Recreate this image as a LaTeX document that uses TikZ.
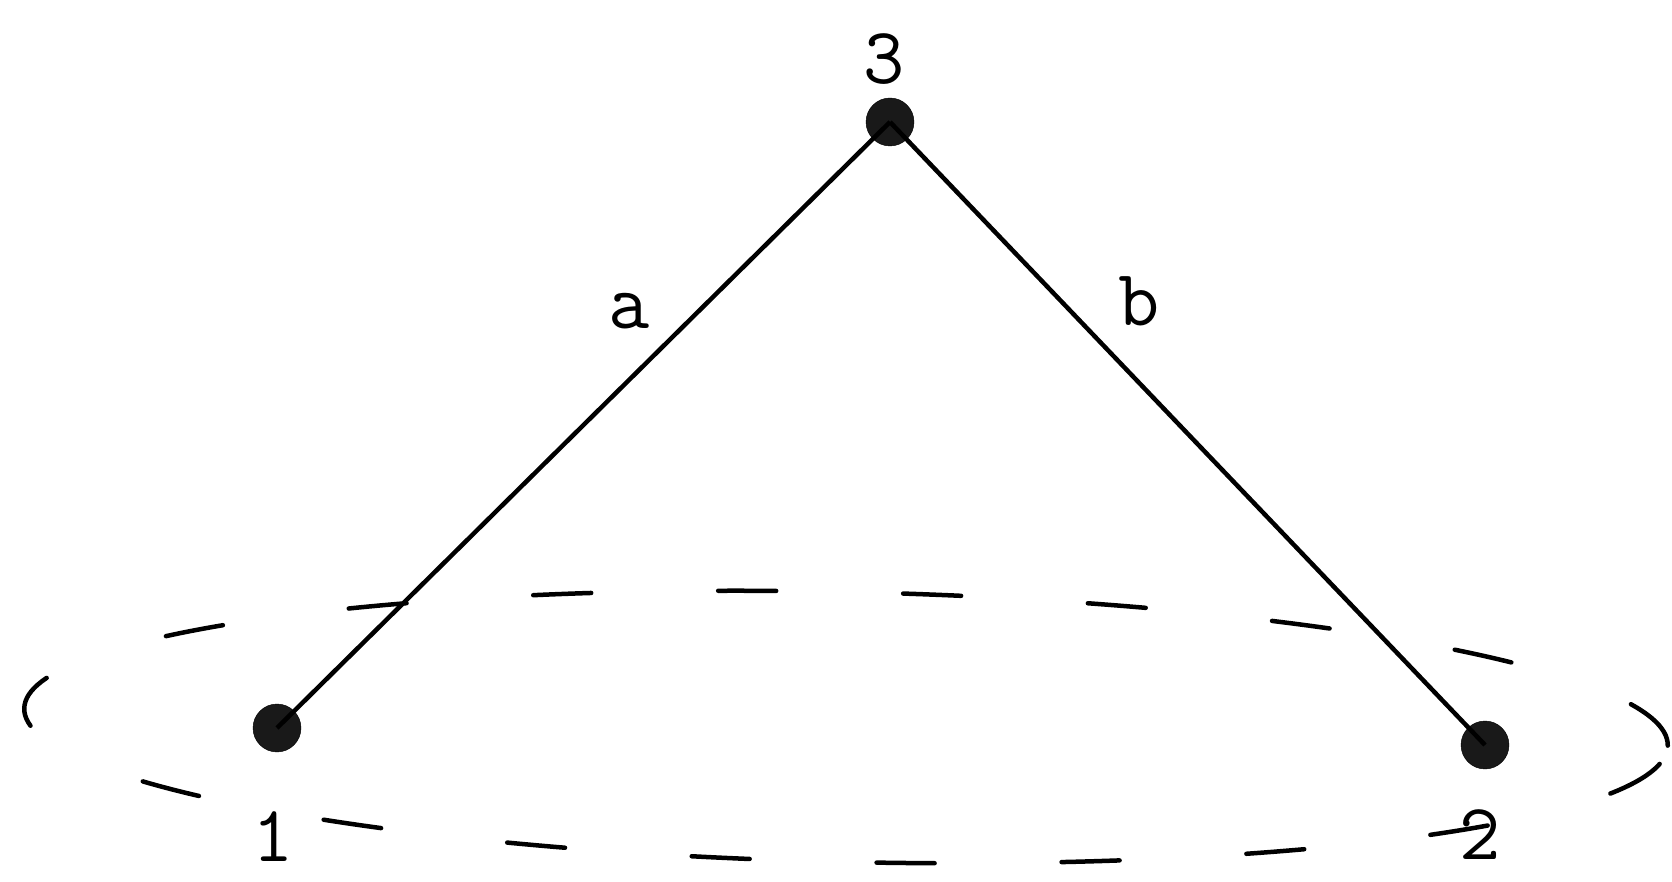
\documentclass[tikz,border=0pt]{standalone}
\usepackage{fontspec}
\begin{document}
\begin{tikzpicture}[x=1pt,y=1pt,
  vdot/.style={circle,fill=black!90,draw=black,minimum size=48pt,inner sep=0pt},
  lbl/.style={inner sep=0pt,font=\fontsize{80}{100}\selectfont\ttfamily},
  edgeline/.style={line width=4.5pt},
  rim/.style={line width=4.5pt,dash pattern=on 58pt off 127pt,line cap=round}]
\useasboundingbox (0,0) rectangle (1672,881);
\draw[rim,rotate around={-1.3:(846,154)}] (846,154) ellipse [x radius=822, y radius=135];
\node[vdot] (n3) at (890,759) {};
\node[vdot] (n1) at (277,153) {};
\node[vdot] (n2) at (1485,136) {};
\draw[edgeline] (n3.center) -- (n1.center);
\draw[edgeline] (n3.center) -- (n2.center);
\node[lbl] (l3) at (884,822) {3};
\node[lbl] (l1) at (273,44) {1};
\node[lbl] (l2) at (1480,46) {2};
\node[lbl] (la) at (629,570) {a};
\node[lbl] (lb) at (1139,580) {b};
\end{tikzpicture}
\end{document}
